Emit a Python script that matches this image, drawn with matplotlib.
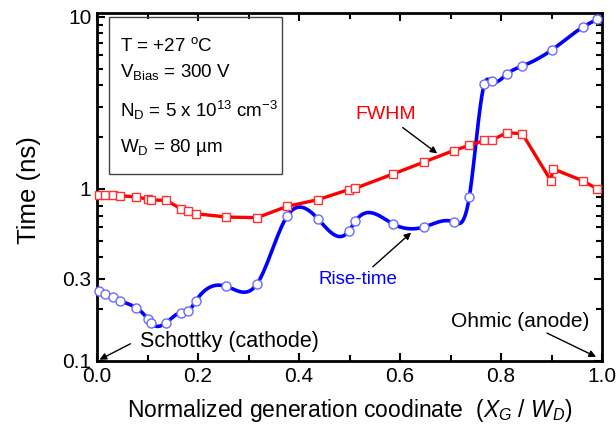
import matplotlib
matplotlib.use('Agg')
import matplotlib.pyplot as plt
import numpy as np

plt.rcParams['font.family'] = ['Liberation Sans', 'DejaVu Sans']
plt.rcParams['mathtext.fontset'] = 'custom'
plt.rcParams['mathtext.rm'] = 'Liberation Sans'
plt.rcParams['mathtext.it'] = 'Liberation Sans:italic'

# Generation position (normalised) and times
x_rise = [0.003, 0.016, 0.031, 0.046, 0.077, 0.100, 0.106, 0.137, 0.166, 0.181,
          0.196, 0.256, 0.317, 0.376, 0.437, 0.498, 0.511, 0.586, 0.647, 0.706,
          0.737, 0.767, 0.781, 0.812, 0.842, 0.900, 0.963, 0.990]
rise_time = [0.256, 0.245, 0.235, 0.224, 0.204, 0.176, 0.167, 0.167, 0.191, 0.195,
             0.224, 0.271, 0.281, 0.692, 0.671, 0.566, 0.647, 0.625, 0.600, 0.642,
             0.897, 4.08, 4.21, 4.66, 5.17, 6.40, 8.75, 9.66]

x_fwhm = [0.003, 0.016, 0.031, 0.046, 0.077, 0.100, 0.106, 0.137, 0.166, 0.181,
          0.196, 0.256, 0.317, 0.376, 0.437, 0.498, 0.511, 0.586, 0.647, 0.706,
          0.737, 0.767, 0.781, 0.812, 0.842, 0.899, 0.902, 0.963, 0.990]
fwhm = [0.916, 0.916, 0.916, 0.912, 0.897, 0.873, 0.862, 0.857, 0.767, 0.744,
        0.717, 0.686, 0.680, 0.791, 0.865, 0.989, 1.007, 1.22, 1.43, 1.67,
        1.79, 1.91, 1.92, 2.12, 2.09, 1.11, 1.31, 1.11, 1.00]


# natural cubic spline (used only to draw the smooth connecting line)
def spline(x, y, xs):
    x = np.asarray(x, float)
    y = np.asarray(y, float)
    n = len(x)
    h = np.diff(x)
    A = np.zeros((n, n))
    b = np.zeros(n)
    A[0, 0] = A[-1, -1] = 1
    for i in range(1, n - 1):
        A[i, i - 1] = h[i - 1]
        A[i, i] = 2 * (h[i - 1] + h[i])
        A[i, i + 1] = h[i]
        b[i] = 3 * ((y[i + 1] - y[i]) / h[i] - (y[i] - y[i - 1]) / h[i - 1])
    c = np.linalg.solve(A, b)
    idx = np.clip(np.searchsorted(x, xs) - 1, 0, n - 2)
    dx = xs - x[idx]
    hb = h[idx]
    bb = (y[idx + 1] - y[idx]) / hb - hb * (2 * c[idx] + c[idx + 1]) / 3
    d = (c[idx + 1] - c[idx]) / (3 * hb)
    return y[idx] + bb * dx + c[idx] * dx**2 + d * dx**3


fig = plt.figure(figsize=(6.16, 4.37), dpi=100)
ax = fig.add_axes([0.1575, 0.174, 0.820, 0.796])

xs = np.linspace(x_rise[0], x_rise[-1], 800)
ys = 10 ** spline(x_rise, np.log10(rise_time), xs)
ax.plot(xs, ys, color='#0000ff', lw=2.6, zorder=3)
ax.plot(x_rise, rise_time, ls='none', marker='o', ms=6.5, mfc='white',
        mec='#6a6aff', mew=1.0, zorder=4, clip_on=False)

ax.plot(x_fwhm, fwhm, color='#ff0000', lw=2.4, marker='s', ms=6, mfc='white',
        mec='#ff3030', mew=1.0, zorder=5, clip_on=False)

ax.set_yscale('log')
ax.set_xlim(0, 1)
ax.set_ylim(0.1, 10.5)
ax.set_xticks([0, 0.2, 0.4, 0.6, 0.8, 1.0])
ax.set_xticklabels(['0.0', '0.2', '0.4', '0.6', '0.8', '1.0'])
ax.set_xticks(np.arange(0.1, 1.0, 0.2), minor=True)
ax.set_yticks([0.1, 0.3, 1, 10])
ax.set_yticklabels(['0.1', '0.3', '1', '10'])
ax.tick_params(which='both', direction='in', top=True, right=True, width=1.5,
               labelsize=15, pad=4)
ax.tick_params(which='major', length=6)
ax.tick_params(which='minor', length=4)
for s in ax.spines.values():
    s.set_linewidth(2)

ax.set_xlabel('Normalized generation coodinate  ($X_G$ / $W_D$)', fontsize=16.5, labelpad=8)
ax.set_ylabel('Time (ns)', fontsize=18.5)
ax.yaxis.set_label_coords(-0.11, 0.49)

# parameter box
ax.add_patch(plt.Rectangle((0.024, 0.537), 0.342, 0.451, transform=ax.transAxes,
                           fill=False, ec='#444444', lw=1, zorder=6))
box_txt = [r'T = +27 $^{\rm o}$C', r'V$_{\rm Bias}$ = 300 V',
           r'N$_{\rm D}$ = 5 x 10$^{13}$ cm$^{-3}$', 'W$_{\\rm D}$ = 80 µm']
for t, yy in zip(box_txt, [0.905, 0.830, 0.721, 0.615]):
    ax.text(0.046, yy, t, transform=ax.transAxes, fontsize=13.5, va='center')

arr = dict(arrowstyle='-|>', color='black', lw=1, mutation_scale=10)
ax.annotate('FWHM', xy=(0.678, 1.57), xytext=(0.571, 2.70), color='#ff0000',
            fontsize=14, ha='center', va='center', arrowprops=arr)
ax.annotate('Rise-time', xy=(0.626, 0.571), xytext=(0.517, 0.296), color='#0000ff',
            fontsize=13.5, ha='center', va='center', arrowprops=arr)
ax.annotate('', xy=(0.0, 0.1), xytext=(0.071, 0.128), arrowprops=arr)
ax.text(0.085, 0.129, 'Schottky (cathode)', fontsize=15.5, va='center')
ax.annotate('', xy=(0.993, 0.104), xytext=(0.886, 0.1475), arrowprops=arr)
ax.text(0.70, 0.169, 'Ohmic (anode)', fontsize=15, va='center')

fig.savefig('out.png', dpi=100)
